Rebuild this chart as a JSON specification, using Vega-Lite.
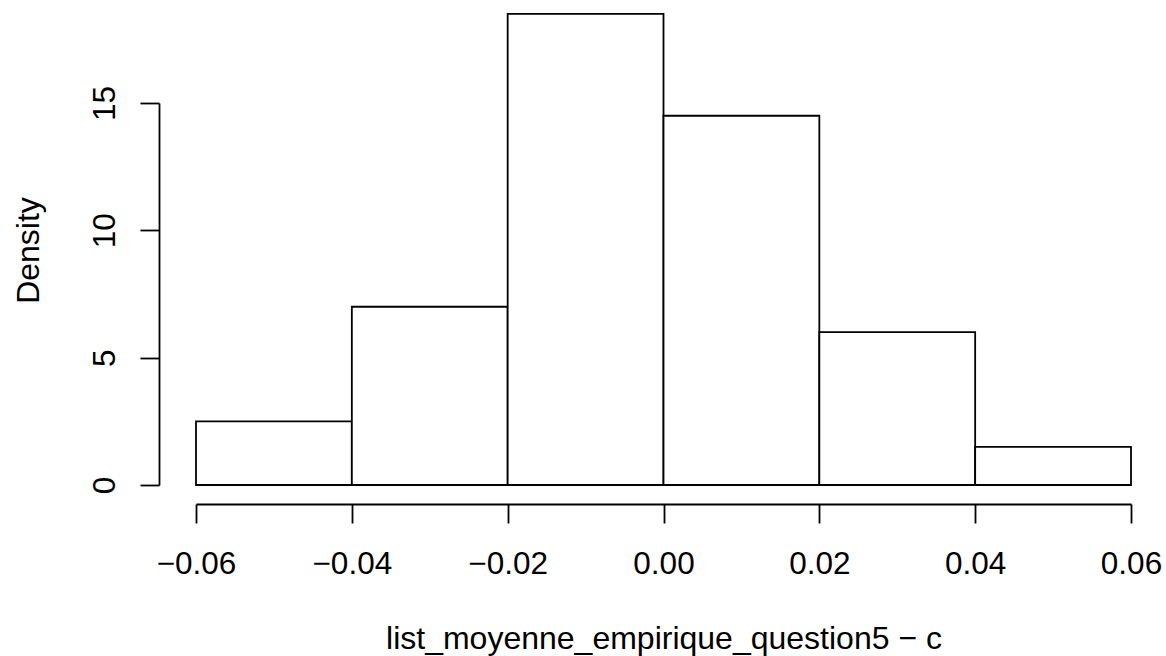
{
  "$schema": "https://vega.github.io/schema/vega-lite/v6.json",
  "autosize": "none",
  "width": 935,
  "height": 382,
  "padding": {"left": 196, "top": 103, "right": 35, "bottom": 171},
  "background": "white",
  "config": {
    "view": {"stroke": null},
    "font": "Liberation Sans",
    "axis": {
      "grid": false,
      "domainColor": "black",
      "domainWidth": 1.8,
      "tickColor": "black",
      "tickWidth": 1.8,
      "tickSize": 19,
      "labelColor": "black",
      "titleColor": "black",
      "labelFontSize": 31.5,
      "titleFontSize": 32,
      "labelFont": "Liberation Sans",
      "titleFont": "Liberation Sans",
      "labelFontWeight": "normal",
      "titleFontWeight": "normal",
      "labelFlush": false,
      "labelOverlap": false,
      "labelBound": false
    }
  },
  "data": {
    "values": [
      {"bin_start": -0.06, "bin_end": -0.04, "density": 2.5},
      {"bin_start": -0.04, "bin_end": -0.02, "density": 7},
      {"bin_start": -0.02, "bin_end": 0.0, "density": 18.5},
      {"bin_start": 0.0, "bin_end": 0.02, "density": 14.5},
      {"bin_start": 0.02, "bin_end": 0.04, "density": 6},
      {"bin_start": 0.04, "bin_end": 0.06, "density": 1.5}
    ]
  },
  "mark": {"type": "rect", "fill": "white", "stroke": "black", "strokeWidth": 1.8, "clip": false},
  "encoding": {
    "x": {
      "field": "bin_start",
      "type": "quantitative",
      "scale": {"domain": [-0.06, 0.06], "nice": false, "zero": false},
      "axis": {
        "values": [-0.06, -0.04, -0.02, 0, 0.02, 0.04, 0.06],
        "format": ".2f",
        "offset": 19,
        "labelBaseline": "alphabetic",
        "labelPadding": 50,
        "title": "list_moyenne_empirique_question5 − c",
        "titleBaseline": "alphabetic",
        "titleY": 144,
        "titleX": 467.5,
        "titleAlign": "center"
      }
    },
    "x2": {"field": "bin_end"},
    "y": {
      "field": "density",
      "type": "quantitative",
      "scale": {"domain": [0, 15], "nice": false, "zero": true},
      "axis": {
        "values": [0, 5, 10, 15],
        "format": "d",
        "offset": 37,
        "labelAngle": -90,
        "labelAlign": "center",
        "labelBaseline": "alphabetic",
        "labelPadding": 26,
        "title": "Density",
        "titleAngle": -90,
        "titleAlign": "center",
        "titleBaseline": "alphabetic",
        "titleX": -121,
        "titleY": 147
      }
    },
    "y2": {"datum": 0}
  }
}
